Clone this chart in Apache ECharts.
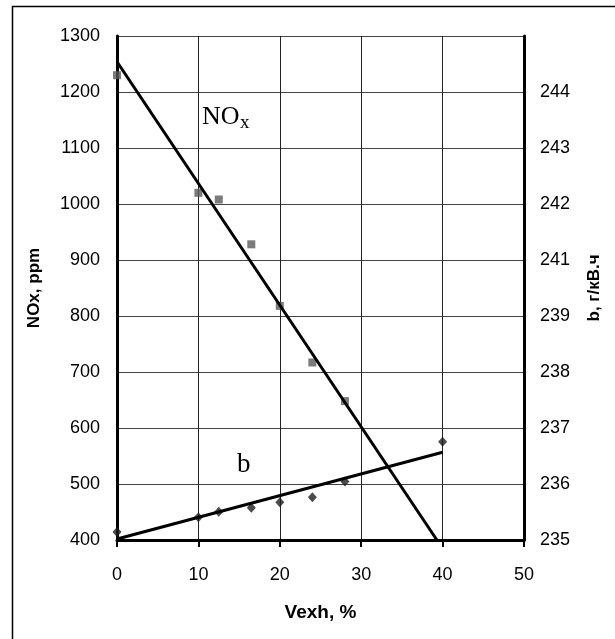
<!DOCTYPE html>
<html>
<head>
<meta charset="utf-8">
<script src="https://cdn.jsdelivr.net/npm/echarts@6/dist/echarts.min.js"></script>
<style>html,body{margin:0;padding:0;background:#fff}#c{width:615px;height:639px}</style>
</head>
<body>
<div id="c"></div>
<script>
// ---- data ----
var vexh = [0, 10, 12.5, 16.5, 20, 24, 28];
var noxValues = [1230, 1020, 1008, 928, 818, 717, 648];
var vexhB = [0, 10, 12.5, 16.5, 20, 24, 28, 40];
var bValues = [235.16, 235.45, 235.56, 235.64, 235.75, 235.85, 236.16, 236.95];
var noxTrendX = [0, 39.3];
var noxTrendY = [1254, 400];
var bTrendX = [0, 40];
var bTrendY = [235.02, 236.74];
var xTicks = [0, 10, 20, 30, 40, 50];
var leftTicks = [400, 500, 600, 700, 800, 900, 1000, 1100, 1200, 1300];
var rightTicks = [235, 236.11, 237.22, 238.33, 239.44, 240.56, 241.67, 242.78, 243.89];

function pairs(xs, ys) { return xs.map(function (x, i) { return [x, ys[i]]; }); }

var chart = echarts.init(document.getElementById('c'), null, { renderer: 'canvas' });
var sans = '"Liberation Sans", Arial, sans-serif';
var serif = '"Liberation Serif", "Times New Roman", serif';

chart.setOption({
  animation: false,
  backgroundColor: '#fff',
  grid: { left: 117, right: 91, top: 36, bottom: 99, containLabel: false },
  xAxis: {
    type: 'value', min: xTicks[0], max: xTicks[xTicks.length - 1], interval: 10,
    name: 'Vexh, %', nameLocation: 'middle', nameGap: 63,
    nameTextStyle: { fontFamily: sans, fontWeight: 'bold', fontSize: 19, color: '#000' },
    axisLine: { show: true, onZero: false, lineStyle: { color: '#000', width: 3 } },
    axisTick: { show: true, length: 7, lineStyle: { color: '#000', width: 2 } },
    axisLabel: { fontFamily: sans, fontSize: 18, color: '#000', margin: 26,
      formatter: function (v) { return String(v); } },
    splitLine: { show: true, lineStyle: { color: '#222', width: 1 } }
  },
  yAxis: [{
    type: 'value', min: leftTicks[0], max: leftTicks[leftTicks.length - 1], interval: 100,
    name: 'NOx, ppm', nameLocation: 'middle', nameGap: 74, nameRotate: 90,
    nameTextStyle: { fontFamily: sans, fontWeight: 'bold', fontSize: 17, color: '#000' },
    axisLine: { show: true, onZero: false, lineStyle: { color: '#000', width: 3 } },
    axisTick: { show: false },
    axisLabel: { fontFamily: sans, fontSize: 18, color: '#000', margin: 17,
      formatter: function (v) { return String(v); } },
    splitLine: { show: true, lineStyle: { color: '#444', width: 1 } }
  }, {
    type: 'value', min: 235, max: 245, position: 'right',
    name: 'b, г/кВ.ч', nameLocation: 'middle', nameGap: 62, nameRotate: 90,
    nameTextStyle: { fontFamily: sans, fontWeight: 'bold', fontSize: 17, color: '#000' },
    axisLine: { show: true, onZero: false, lineStyle: { color: '#000', width: 3 } },
    axisTick: { show: false },
    axisLabel: {
      fontFamily: sans, fontSize: 18, color: '#000', margin: 16,
      customValues: rightTicks,
      formatter: function (v) { return String(Math.round(v)); }
    },
    splitLine: { show: false }
  }],
  series: [{
    type: 'scatter', name: 'NOx', yAxisIndex: 0,
    symbol: 'rect', symbolSize: 8,
    itemStyle: { color: '#5a5a5a' },
    data: pairs(vexh, noxValues), z: 3
  }, {
    type: 'scatter', name: 'b', yAxisIndex: 1,
    symbol: 'diamond', symbolSize: [9, 10],
    itemStyle: { color: '#1e1e1e' },
    data: pairs(vexhB, bValues), z: 3
  }, {
    type: 'line', name: 'NOx trend', yAxisIndex: 0,
    showSymbol: false, symbol: 'none',
    lineStyle: { color: '#000', width: 3 },
    data: pairs(noxTrendX, noxTrendY), z: 4
  }, {
    type: 'line', name: 'b trend', yAxisIndex: 1,
    showSymbol: false, symbol: 'none',
    lineStyle: { color: '#000', width: 3 },
    data: pairs(bTrendX, bTrendY), z: 4
  }],
  graphic: [{
    type: 'rect', silent: true, z: 0,
    shape: { x: 12.5, y: 6.5, width: 800, height: 800 },
    style: { fill: 'none', stroke: '#000', lineWidth: 1.5 }
  }, {
    type: 'text', z: 10, left: 202, top: 104,
    style: { text: 'NO', font: '26px ' + serif, fill: '#000' }
  }, {
    type: 'text', z: 10, left: 240, top: 114,
    style: { text: 'x', font: '19px ' + serif, fill: '#000' }
  }, {
    type: 'text', z: 10, left: 232, top: 451,
    style: {
      text: 'b', font: '27px ' + serif, fill: '#000',
      backgroundColor: '#fff', padding: [0, 5, 4, 5]
    }
  }]
});
</script>
</body>
</html>
